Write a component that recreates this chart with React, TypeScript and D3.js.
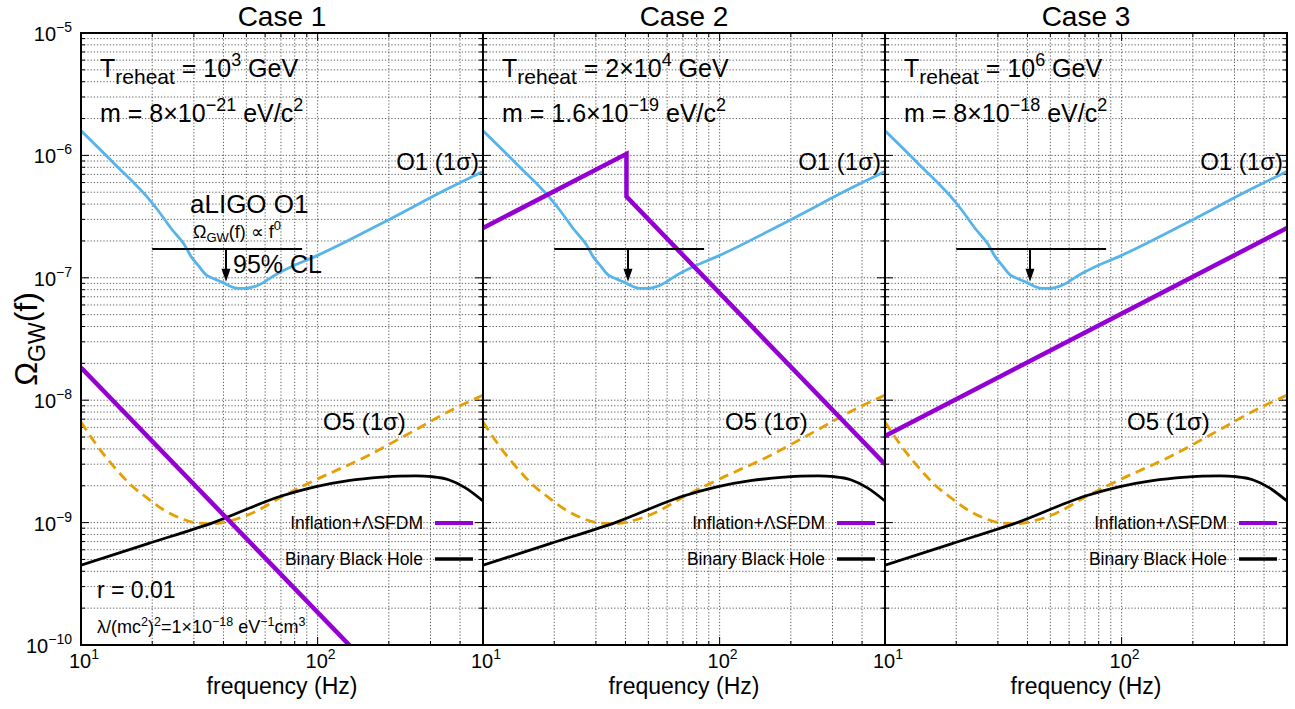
import React from 'react';
import * as d3 from 'd3';

// ---------- data ----------
const caseTitles = ['Case 1', 'Case 2', 'Case 3'];
const treheatBase = ['10', '2×10', '10'];
const treheatExp = ['3', '4', '6'];
const massMantissa = ['8×10', '1.6×10', '8×10'];
const massExp = ['−21', '−19', '−18'];

const o1Freq = [10, 13.8, 19.8, 21.1, 24.0, 27.4, 29.2, 31.2, 33.9, 36.1, 39.2, 46.1, 49.2, 56.1, 65.9, 80.2, 97.4, 187, 358, 500];
const o1Omega = [1.59e-6, 8.6e-7, 4.18e-7, 3.58e-7, 2.54e-7, 1.85e-7, 1.49e-7, 1.27e-7, 1.05e-7, 9.9e-8, 9.27e-8, 8.2e-8, 8.2e-8, 8.7e-8, 1.05e-7, 1.27e-7, 1.49e-7, 2.79e-7, 5.38e-7, 7.4e-7];

const o5Freq = [10, 11.8, 13.8, 16.3, 19.2, 22.5, 26.5, 31.2, 36.7, 43.2, 54.2, 70.3, 97.4, 159, 258, 358, 500];
const o5Omega = [6.65e-9, 4.15e-9, 2.85e-9, 2.02e-9, 1.57e-9, 1.26e-9, 1.08e-9, 0.99e-9, 0.98e-9, 1.04e-9, 1.22e-9, 1.62e-9, 2.22e-9, 3.44e-9, 5.69e-9, 8.1e-9, 1.1e-8];

const bbhFreq = [10, 19.2, 36.7, 70.3, 97.4, 135, 187, 220, 260, 305, 358, 420, 500];
const bbhOmega = [4.48e-10, 6.73e-10, 1.01e-9, 1.65e-9, 1.96e-9, 2.2e-9, 2.35e-9, 2.4e-9, 2.41e-9, 2.37e-9, 2.24e-9, 1.93e-9, 1.5e-9];

const sfdmFreq = [[10, 500], [10, 40.4, 40.4, 500], [10, 500]];
const sfdmOmega = [[1.85e-8, 7.4e-12], [2.55e-7, 1.03e-6, 4.6e-7, 3.0e-9], [5.1e-9, 2.55e-7]];

const limitFreq = [20, 86];
const limitOmega = 1.72e-7;
const arrowFreq = 41;
const arrowTipOmega = 9.3e-8;

const yTickExps = [-5, -6, -7, -8, -9, -10];
const xTickExps = [1, 2];

// ---------- layout ----------
const W = 1295, H = 709;
const panelLefts = [81, 483, 885];
const PW = 402;
const TOP = 33, BOTTOM = 645;
const FONT = '"Liberation Sans", Arial, Helvetica, sans-serif';

const BLUE = '#56B4E9';
const ORANGE = '#E69F00';
const PURPLE = '#9400D3';

function Panel({ idx }: { idx: number }) {
  const left = panelLefts[idx];
  const right = left + PW;
  const x = d3.scaleLog().domain([10, 500]).range([left, right]);
  const y = d3.scaleLog().domain([1e-10, 1e-5]).range([BOTTOM, TOP]);

  const xGrid: number[] = [];
  for (let m = 2; m <= 9; m++) xGrid.push(m * 10);
  for (let m = 1; m <= 4; m++) xGrid.push(m * 100);
  const xMinor: number[] = [];
  for (let m = 2; m <= 9; m++) xMinor.push(m * 10);
  for (let m = 2; m <= 5; m++) xMinor.push(m * 100);

  const yGrid: number[] = [];
  const yMinor: number[] = [];
  for (let k = -10; k <= -6; k++) {
    for (let m = 1; m <= 9; m++) {
      const v = m * Math.pow(10, k);
      if (!(m === 1 && k === -10)) yGrid.push(v);
      if (m > 1) yMinor.push(v);
    }
  }

  const smooth = d3.line<[number, number]>().x(d => x(d[0])).y(d => y(d[1])).curve(d3.curveMonotoneX);
  const straight = d3.line<[number, number]>().x(d => x(d[0])).y(d => y(d[1]));

  const o1 = o1Freq.map((f, i) => [f, o1Omega[i]] as [number, number]);
  const o5 = o5Freq.map((f, i) => [f, o5Omega[i]] as [number, number]);
  const bbh = bbhFreq.map((f, i) => [f, bbhOmega[i]] as [number, number]);
  const sf = sfdmFreq[idx].map((f, i) => [f, sfdmOmega[idx][i]] as [number, number]);

  const clipId = `clip${idx}`;
  const ax = x(arrowFreq);
  const ly = y(limitOmega);
  const tipY = y(arrowTipOmega);
  const cx = (left + right) / 2;

  return (
    <g>
      <defs>
        <clipPath id={clipId}>
          <rect x={left} y={TOP} width={PW} height={BOTTOM - TOP} />
        </clipPath>
      </defs>
      {/* grid */}
      <g stroke="#444" strokeWidth={0.9} strokeDasharray="1.2,2">
        {xGrid.map(v => (
          <line key={'xg' + v} x1={x(v)} x2={x(v)} y1={TOP} y2={BOTTOM} />
        ))}
        {yGrid.map(v => (
          <line key={'yg' + v} x1={left} x2={right} y1={y(v)} y2={y(v)} />
        ))}
      </g>
      {/* ticks */}
      <g stroke="#000" strokeWidth={1}>
        {yMinor.map(v => (
          <g key={'ym' + v}>
            <line x1={left} x2={left + 4} y1={y(v)} y2={y(v)} />
            <line x1={right} x2={right - 4} y1={y(v)} y2={y(v)} />
          </g>
        ))}
        {yTickExps.map(e => (
          <g key={'yM' + e}>
            <line x1={left} x2={left + 8} y1={y(Math.pow(10, e))} y2={y(Math.pow(10, e))} />
            <line x1={right} x2={right - 8} y1={y(Math.pow(10, e))} y2={y(Math.pow(10, e))} />
          </g>
        ))}
        {xMinor.map(v => (
          <g key={'xm' + v}>
            <line x1={x(v)} x2={x(v)} y1={BOTTOM} y2={BOTTOM - 4} />
            <line x1={x(v)} x2={x(v)} y1={TOP} y2={TOP + 4} />
          </g>
        ))}
        {xTickExps.map(e => (
          <g key={'xM' + e}>
            <line x1={x(Math.pow(10, e))} x2={x(Math.pow(10, e))} y1={BOTTOM} y2={BOTTOM - 8} />
            <line x1={x(Math.pow(10, e))} x2={x(Math.pow(10, e))} y1={TOP} y2={TOP + 8} />
          </g>
        ))}
      </g>

      {/* curves */}
      <g clipPath={`url(#${clipId})`} fill="none" strokeLinejoin="round">
        <path d={smooth(o1) || ''} stroke={BLUE} strokeWidth={2.8} />
        <path d={smooth(o5) || ''} stroke={ORANGE} strokeWidth={2.8} strokeDasharray="10,6" />
        <path d={smooth(bbh) || ''} stroke="#000" strokeWidth={2.8} />
        <path d={straight(sf) || ''} stroke={PURPLE} strokeWidth={4.5} strokeLinejoin="miter" />
      </g>

      {/* upper limit with arrow */}
      <line x1={x(limitFreq[0])} x2={x(limitFreq[1])} y1={ly} y2={ly} stroke="#000" strokeWidth={2} />
      <line x1={ax} x2={ax} y1={ly} y2={tipY - 10} stroke="#000" strokeWidth={2} />
      <polygon points={`${ax - 4.5},${tipY - 13} ${ax + 4.5},${tipY - 13} ${ax},${tipY}`} fill="#000" />

      {/* frame */}
      <rect x={left} y={TOP} width={PW} height={BOTTOM - TOP} fill="none" stroke="#000" strokeWidth={2} />

      {/* texts */}
      <g fontFamily={FONT} fill="#000">
        <text x={cx} y={26} fontSize={28} textAnchor="middle">{caseTitles[idx]}</text>
        <text x={left + 19} y={77} fontSize={25}>
          T<tspan fontSize={21} dy={7}>reheat</tspan>
          <tspan dy={-7}> = {treheatBase[idx]}</tspan>
          <tspan fontSize={18} dy={-11}>{treheatExp[idx]}</tspan>
          <tspan dy={11}> GeV</tspan>
        </text>
        <text x={left + 19} y={122} fontSize={25}>
          m = {massMantissa[idx]}
          <tspan fontSize={18} dy={-11}>{massExp[idx]}</tspan>
          <tspan dy={11}> eV/c</tspan>
          <tspan fontSize={18} dy={-11}>2</tspan>
        </text>
        <text x={right - 4} y={170} fontSize={24} textAnchor="end">O1 (1σ)</text>
        <text x={left + 242} y={430} fontSize={24}>O5 (1σ)</text>

        {/* legend */}
        <text x={right - 60} y={529} fontSize={17.5} textAnchor="end">Inflation+ΛSFDM</text>
        <line x1={right - 48} x2={right - 10} y1={523} y2={523} stroke={PURPLE} strokeWidth={4} />
        <text x={right - 60} y={565} fontSize={17.5} textAnchor="end">Binary Black Hole</text>
        <line x1={right - 48} x2={right - 10} y1={559} y2={559} stroke="#000" strokeWidth={3.5} />

        {/* x tick labels */}
        {xTickExps.map(e => (
          <text key={'xl' + e} x={x(Math.pow(10, e)) + 3} y={668} fontSize={20} textAnchor="middle">
            10<tspan fontSize={14} dy={-9}>{e}</tspan>
          </text>
        ))}
        <text x={cx} y={694} fontSize={23} textAnchor="middle">frequency (Hz)</text>

        {idx === 0 && (
          <g>
            <text x={190} y={213} fontSize={26}>aLIGO O1</text>
            <text x={193} y={238} fontSize={18}>
              Ω<tspan fontSize={13} dy={4}>GW</tspan>
              <tspan dy={-4}>(f) ∝ f</tspan>
              <tspan fontSize={13} dy={-8}>0</tspan>
            </text>
            <text x={233} y={273} fontSize={25}>95% CL</text>
            <text x={97} y={598} fontSize={23}>r = 0.01</text>
            <text x={97} y={633} fontSize={18}>
              λ/(mc<tspan fontSize={12.5} dy={-7}>2</tspan>
              <tspan dy={7}>)</tspan>
              <tspan fontSize={12.5} dy={-7}>2</tspan>
              <tspan dy={7}>=1×10</tspan>
              <tspan fontSize={12.5} dy={-7}>−18</tspan>
              <tspan dy={7}> eV</tspan>
              <tspan fontSize={12.5} dy={-7}>−1</tspan>
              <tspan dy={7}>cm</tspan>
              <tspan fontSize={12.5} dy={-7}>3</tspan>
            </text>
            {/* y tick labels */}
            {yTickExps.map(e => (
              <text key={'yl' + e} x={72} y={y(Math.pow(10, e)) + 8} fontSize={20} textAnchor="end">
                10<tspan fontSize={14} dy={-9}>{'−' + Math.abs(e)}</tspan>
              </text>
            ))}
            <text transform={`translate(37,${(TOP + BOTTOM) / 2}) rotate(-90)`} fontSize={32} textAnchor="middle">
              Ω<tspan fontSize={23} dy={8}>GW</tspan>
              <tspan dy={-8}>(f)</tspan>
            </text>
          </g>
        )}
      </g>
    </g>
  );
}

export default function App() {
  return (
    <svg width={W} height={H} style={{ position: 'absolute', left: 0, top: 0, background: '#fff' }}>
      <rect width={W} height={H} fill="#fff" />
      {[0, 1, 2].map(i => (
        <Panel key={i} idx={i} />
      ))}
    </svg>
  );
}
